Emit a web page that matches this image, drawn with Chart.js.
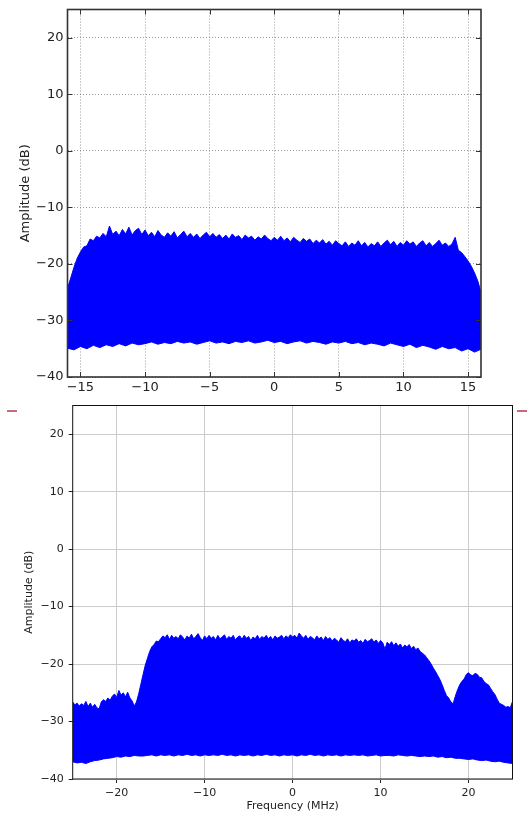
<!DOCTYPE html>
<html>
<head>
<meta charset="utf-8">
<script src="https://cdn.jsdelivr.net/npm/chart.js@4/dist/chart.umd.min.js"></script>
<style>
  html, body { margin: 0; padding: 0; background: #fff; }
  body { width: 527px; height: 816px; position: relative; overflow: hidden; }
  .panel { position: absolute; left: 0; width: 527px; }
  #topPanel { top: 0; height: 400px; }
  #bottomPanel { top: 400px; height: 416px; }
  .edge-mark { position: absolute; top: 410px; width: 10px; height: 1.5px; background: #c46a78; }
</style>
</head>
<body>
<div id="topPanel" class="panel"><canvas id="topChart"></canvas></div>
<div id="bottomPanel" class="panel"><canvas id="bottomChart"></canvas></div>
<div class="edge-mark" style="left:7px"></div>
<div class="edge-mark" style="left:517px"></div>
<script>
// ---- Upper spectrum (32 MHz span) ----
const topFreqStart = -16;       // MHz
const topUpperStep = 0.25;      // MHz between peak-envelope samples
const topLowerStep = 0.5;       // MHz between floor-envelope samples
const topUpperDb = [
  -24.3, -22.5, -20.6, -19.0, -17.9, -17.0, -16.8, -15.6,
  -15.9, -15.1, -15.4, -14.6, -15.2, -13.3, -14.8, -14.2,
  -15.0, -13.9, -14.7, -13.5, -14.9, -14.1, -13.7, -14.8,
  -14.0, -15.0, -14.4, -15.2, -14.1, -14.9, -15.3, -14.5,
  -15.1, -14.3, -15.4, -14.8, -14.2, -15.2, -14.6, -15.3,
  -14.7, -15.5, -14.9, -14.4, -15.2, -14.6, -15.3, -14.8,
  -15.5, -14.9, -15.6, -14.7, -15.3, -15.0, -15.7, -14.9,
  -15.4, -15.1, -15.8, -15.2, -15.6, -14.9, -15.5, -15.9,
  -15.3, -15.8, -15.1, -15.9, -15.4, -16.1, -15.3, -15.8,
  -16.2, -15.5, -16.0, -15.6, -16.4, -15.8, -16.3, -15.7,
  -16.5, -16.0, -16.7, -15.9, -16.4, -16.8, -16.1, -16.9,
  -16.3, -16.7, -15.9, -16.8, -16.2, -17.0, -16.4, -16.8,
  -16.1, -16.9, -16.3, -15.8, -16.6, -16.0, -16.9, -16.2,
  -16.7, -15.9, -16.5, -16.1, -16.9, -16.3, -15.9, -16.8,
  -16.2, -16.9, -16.4, -15.8, -16.7, -16.3, -16.9, -16.5,
  -15.3, -17.6, -18.0, -18.7, -19.5, -20.4, -21.6, -23.0,
  -25.0
];
const topLowerDb = [
  -34.9, -35.2, -34.6, -35.0, -34.4, -34.8, -34.3, -34.6,
  -34.1, -34.5, -34.0, -34.3, -34.1, -33.8, -34.2, -33.9,
  -34.1, -33.7, -34.0, -33.8, -34.2, -33.9, -33.6, -34.0,
  -33.8, -34.1, -33.7, -33.9, -33.6, -34.0, -33.8, -33.5,
  -33.9, -33.7, -34.1, -33.8, -33.6, -34.0, -33.7, -33.9,
  -34.2, -33.8, -34.0, -33.7, -34.1, -33.9, -34.3, -34.0,
  -34.2, -34.5, -34.0, -34.3, -34.6, -34.2, -34.8, -34.4,
  -34.7, -35.1, -34.6, -35.0, -34.8, -35.4, -35.0, -35.6,
  -35.1
];
const topXTicks = [-15, -10, -5, 0, 5, 10, 15];
const topYTicks = [-40, -30, -20, -10, 0, 10, 20];

// ---- Lower spectrum (50 MHz span) ----
const botFreqStart = -25;
const botUpperStep = 0.25;
const botLowerStep = 0.5;
const botUpperDb = [
  -26.6, -27.1, -26.8, -27.3, -26.9, -27.2, -26.5, -27.4,
  -26.8, -27.5, -27.0, -27.6, -27.8, -26.6, -26.2, -26.5,
  -25.9, -26.3, -25.6, -25.2, -25.8, -24.6, -25.4, -25.0,
  -25.7, -24.9, -25.9, -26.4, -27.3, -26.6, -25.2, -23.5,
  -21.8, -20.2, -19.0, -17.8, -17.0, -16.6, -16.0, -16.1,
  -15.6, -15.1, -15.4, -14.9, -15.7, -15.0, -15.5, -15.2,
  -15.6, -14.9, -15.3, -15.8, -15.1, -15.5, -14.8, -15.6,
  -15.2, -14.7, -15.4, -15.9, -15.1, -15.6, -15.0, -15.5,
  -15.2, -15.8, -15.0, -15.6, -15.3, -14.9, -15.7, -15.2,
  -15.5, -15.0, -15.8, -15.3, -15.1, -15.7, -15.0, -15.5,
  -15.2, -15.9, -15.3, -15.6, -15.0, -15.7, -15.2, -15.5,
  -15.0, -15.6, -15.2, -15.8, -15.1, -15.5, -15.3, -15.0,
  -15.6, -15.1, -15.4, -14.9, -15.3, -15.0, -15.5, -14.6,
  -15.1, -15.5, -15.0, -15.7, -15.2, -15.4, -15.8, -15.1,
  -15.6, -15.3, -15.9, -15.2, -15.7, -15.4, -16.0, -15.5,
  -15.8, -16.2, -15.4, -15.9, -16.1, -15.6, -16.3, -15.8,
  -16.0, -15.6, -16.2, -15.9, -16.4, -15.7, -16.1, -15.9,
  -15.6, -16.2, -15.8, -16.4, -15.9, -16.3, -17.4, -16.2,
  -16.6, -16.1, -16.8, -16.3, -16.9, -16.5, -17.2, -16.7,
  -17.0, -16.6, -17.3, -16.9, -17.5, -17.2, -17.8, -18.1,
  -18.4, -18.9, -19.4, -20.0, -20.7, -21.3, -22.0, -22.7,
  -23.6, -24.6, -25.5, -25.9, -26.6, -26.9, -25.6, -24.5,
  -23.6, -23.0, -22.6, -21.8, -21.5, -21.9, -22.0, -21.6,
  -21.8, -22.3, -22.4, -23.0, -23.4, -23.6, -24.2, -24.8,
  -25.3, -26.1, -26.8, -27.0, -27.2, -27.5, -27.4, -27.6,
  -26.5
];
const botLowerDb = [
  -37.0, -37.2, -37.1, -37.3, -37.0, -36.8, -36.7, -36.5,
  -36.4, -36.3, -36.1, -36.2, -36.0, -36.1, -35.9, -36.0,
  -36.0, -35.9, -35.8, -36.0, -35.8, -35.9, -35.8, -36.0,
  -35.8, -35.9, -35.7, -35.9, -35.8, -36.0, -35.8, -35.9,
  -35.8, -35.9, -35.7, -35.9, -35.8, -36.0, -35.8, -35.9,
  -35.8, -36.0, -35.8, -35.9, -35.7, -35.9, -35.8, -36.0,
  -35.8, -35.9, -35.8, -36.0, -35.8, -35.9, -35.7, -35.9,
  -35.8, -36.0, -35.8, -35.9, -35.8, -36.0, -35.8, -35.9,
  -35.8, -35.9, -35.8, -36.0, -35.9, -35.8, -36.0, -35.9,
  -35.9, -36.0, -35.8, -35.9, -36.0, -35.9, -36.0, -36.1,
  -36.0, -36.1, -36.0, -36.2, -36.1, -36.3, -36.2, -36.4,
  -36.4, -36.5, -36.6, -36.5, -36.7, -36.8, -36.7, -36.9,
  -37.0, -36.9, -37.1, -37.2,
  -37.3
];
const botXTicks = [-20, -10, 0, 10, 20];
const botYTicks = [-40, -30, -20, -10, 0, 10, 20];

const yLabel = 'Amplitude (dB)';
const xLabel = 'Frequency (MHz)';

// pair each amplitude with its frequency
function toPoints(start, step, values) {
  return values.map((v, i) => ({ x: start + i * step, y: v }));
}
const minus = v => String(v).replace('-', '\u2212');
const fixedTicks = list => scale => { scale.ticks = list.map(v => ({ value: v })); };
// fixed axis box size; no extra room reserved for overhanging labels
const fitWidth = w => s => { s.width = w; s.paddingTop = 0; s.paddingBottom = 0; };
const fitHeight = h => s => { s.height = h; s.paddingLeft = 0; s.paddingRight = 0; };

// Axes frame (all four sides), optional inward tick marks
const framePlugin = {
  id: 'frame',
  afterDraw(chart, args, opts) {
    const { ctx, chartArea: a, scales } = chart;
    ctx.save();
    ctx.strokeStyle = opts.color;
    if (opts.inTicks) {
      ctx.lineWidth = 1;
      const L = opts.inTicks;
      scales.x.ticks.forEach(t => {
        const px = Math.round(scales.x.getPixelForValue(t.value)) + 0.5;
        ctx.beginPath();
        ctx.moveTo(px, a.bottom); ctx.lineTo(px, a.bottom - L);
        ctx.moveTo(px, a.top); ctx.lineTo(px, a.top + L);
        ctx.stroke();
      });
      scales.y.ticks.forEach(t => {
        const py = Math.round(scales.y.getPixelForValue(t.value)) + 0.5;
        ctx.beginPath();
        ctx.moveTo(a.left, py); ctx.lineTo(a.left + L, py);
        ctx.moveTo(a.right, py); ctx.lineTo(a.right - L, py);
        ctx.stroke();
      });
    }
    ctx.lineWidth = opts.width;
    ctx.strokeRect(a.left, a.top, a.right - a.left, a.bottom - a.top);
    ctx.restore();
  }
};

function spectrumDatasets(upper, lower) {
  return [
    { data: upper, borderColor: '#0000ff', backgroundColor: '#0000ff', borderWidth: 1,
      pointRadius: 0, fill: '+1', tension: 0 },
    { data: lower, borderColor: '#0000ff', backgroundColor: '#0000ff', borderWidth: 1,
      pointRadius: 0, fill: false, tension: 0 }
  ];
}

const common = {
  responsive: true,
  maintainAspectRatio: false,
  animation: false,
  events: [],
  devicePixelRatio: 1
};

// Upper panel: classic style, dotted grid drawn over the trace
new Chart(document.getElementById('topChart'), {
  type: 'line',
  data: { datasets: spectrumDatasets(
    toPoints(topFreqStart, topUpperStep, topUpperDb),
    toPoints(topFreqStart, topLowerStep, topLowerDb)) },
  options: Object.assign({}, common, {
    layout: { padding: { top: 9.5, right: 46, bottom: 0, left: 0 } },
    plugins: { legend: { display: false }, tooltip: { enabled: false },
      frame: { color: '#333', width: 1.6, inTicks: 5 } },
    scales: {
      x: {
        type: 'linear', min: -16, max: 16, z: 1,
        afterBuildTicks: fixedTicks(topXTicks),
        afterFit: fitHeight(23),
        grid: { color: 'rgba(120,120,120,0.75)', lineWidth: 1, drawTicks: false },
        border: { display: false, dash: [1, 2] },
        ticks: { padding: 3, color: '#222', font: { family: 'DejaVu Sans', size: 13 },
          maxRotation: 0, callback: v => minus(v) }
      },
      y: {
        type: 'linear', min: -40, max: 25, z: 1,
        afterBuildTicks: fixedTicks(topYTicks),
        afterFit: fitWidth(67.5),
        grid: { color: 'rgba(120,120,120,0.75)', lineWidth: 1, drawTicks: false },
        border: { display: false, dash: [1, 2] },
        ticks: { padding: 4, color: '#222', font: { family: 'DejaVu Sans', size: 13 },
          callback: v => minus(v) },
        title: { display: true, text: yLabel, color: '#222',
          font: { family: 'DejaVu Sans', size: 13 }, padding: { top: 18, bottom: 0 } }
      }
    }
  }),
  plugins: [framePlugin]
});

// Lower panel: solid light grid beneath the trace, outward ticks
new Chart(document.getElementById('bottomChart'), {
  type: 'line',
  data: { datasets: spectrumDatasets(
    toPoints(botFreqStart, botUpperStep, botUpperDb),
    toPoints(botFreqStart, botLowerStep, botLowerDb)) },
  options: Object.assign({}, common, {
    layout: { padding: { top: 5.5, right: 14.5, bottom: 0, left: 0 } },
    plugins: { legend: { display: false }, tooltip: { enabled: false },
      frame: { color: '#111', width: 1 } },
    scales: {
      x: {
        type: 'linear', min: -25, max: 25,
        afterBuildTicks: fixedTicks(botXTicks),
        afterFit: fitHeight(37),
        grid: { color: '#cccccc', lineWidth: 1, tickColor: '#222', tickLength: 4 },
        border: { display: false },
        ticks: { padding: 4, color: '#222', font: { family: 'DejaVu Sans', size: 11 },
          maxRotation: 0, callback: v => minus(v) },
        title: { display: true, text: xLabel, color: '#222',
          font: { family: 'DejaVu Sans', size: 11 }, padding: { top: 0, bottom: 3 } }
      },
      y: {
        type: 'linear', min: -40, max: 25,
        afterBuildTicks: fixedTicks(botYTicks),
        afterFit: fitWidth(72.7),
        grid: { color: '#cccccc', lineWidth: 1, tickColor: '#222', tickLength: 4 },
        border: { display: false },
        ticks: { padding: 5, color: '#222', font: { family: 'DejaVu Sans', size: 11 },
          callback: v => minus(v) },
        title: { display: true, text: yLabel, color: '#222',
          font: { family: 'DejaVu Sans', size: 11 }, padding: { top: 23, bottom: 0 } }
      }
    }
  }),
  plugins: [framePlugin]
});
</script>
</body>
</html>
